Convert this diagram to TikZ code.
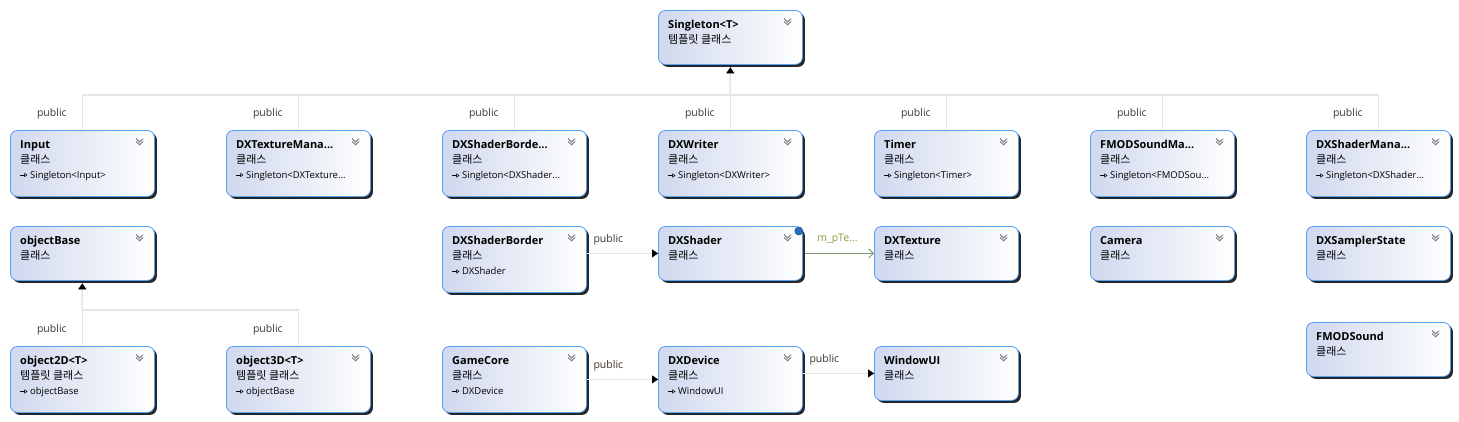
\documentclass[tikz,border=0pt]{standalone}
\usepackage{fontspec}
\setmainfont{Open Sans}
\newfontfamily\krfont{Noto Sans CJK KR}
\usetikzlibrary{arrows.meta, positioning, calc, shadows}

\definecolor{clsborder}{RGB}{84,160,242}
\definecolor{clsleft}{RGB}{208,216,238}
\definecolor{linegrey}{RGB}{230,230,230}
\definecolor{assocgreen}{RGB}{125,154,114}
\definecolor{assoctext}{RGB}{139,155,60}
\definecolor{lbltext}{RGB}{60,50,40}
\definecolor{memberblue}{RGB}{40,110,200}

\newcommand{\kind}{{\krfont 클래스}}
\newcommand{\tkind}{{\krfont 템플릿 클래스}}
\newcommand{\base}[1]{{\fontsize{9.5}{15}\selectfont\tikz[baseline=-0.6ex]\draw[line width=0.5pt,-{Triangle[open,length=3pt,width=4pt]}] (0pt,0pt)--(7pt,0pt);\ #1}}
\newcommand{\chevron}{\tikz\draw[black!50, line width=1pt, line join=miter] (0pt,6pt)--(3.5pt,2.8pt)--(7pt,6pt) (0pt,3.2pt)--(3.5pt,0pt)--(7pt,3.2pt);}

\begin{document}
\begin{tikzpicture}[
    x=1pt, y=-1pt,
    every node/.style={font=\fontsize{9}{11}\selectfont},
    cls/.style={rectangle, draw=clsborder, line width=0.8pt, rounded corners=7pt,
        left color=clsleft, right color=white, anchor=north west, inner sep=0pt,
        minimum width=144pt, minimum height=54pt,
        drop shadow={shadow xshift=2.5pt, shadow yshift=-2.5pt, fill=black!85, opacity=1},
        label={[chev]north east:{\chevron}}},
    tall/.style={minimum height=66pt},
    txt/.style={anchor=north west, align=left, inner xsep=10pt, inner ysep=10pt, font=\fontsize{11}{15}\selectfont, text=black},
    chev/.style={anchor=north east, inner xsep=11pt, inner ysep=8pt},
    gline/.style={draw=linegrey, line width=1.5pt},
    inh/.style={gline, -{Triangle[length=6pt, width=8pt, color=black, line width=0.4pt]}},
    assoc/.style={draw=assocgreen, line width=1pt, -{Straight Barb[length=4.5pt, width=9pt]}},
    lbl/.style={font=\fontsize{10.5}{12}\selectfont, text=lbltext, inner sep=0pt},
    member/.style={circle, fill=memberblue, draw=memberblue!60!black, line width=0.5pt, minimum size=8pt, inner sep=0pt}
]
\useasboundingbox (0,0) rectangle (1459,421);

% Singleton template at the top
\node[cls, label={[txt]north west:{{\bfseries Singleton<T>}\\\tkind}}] (singleton) at (658,10) {};

% Row 1 - singleton users
\node[cls, tall, label={[txt]north west:{{\bfseries Input}\\\kind\\\base{Singleton<Input>}}}] (input) at (10,130) {};
\node[cls, tall, label={[txt]north west:{{\bfseries DXTextureMana...}\\\kind\\\base{Singleton<DXTexture...}}}] (texman) at (226,130) {};
\node[cls, tall, label={[txt]north west:{{\bfseries DXShaderBorde...}\\\kind\\\base{Singleton<DXShader...}}}] (borderman) at (442,130) {};
\node[cls, tall, label={[txt]north west:{{\bfseries DXWriter}\\\kind\\\base{Singleton<DXWriter>}}}] (writer) at (658,130) {};
\node[cls, tall, label={[txt]north west:{{\bfseries Timer}\\\kind\\\base{Singleton<Timer>}}}] (timer) at (874,130) {};
\node[cls, tall, label={[txt]north west:{{\bfseries FMODSoundMa...}\\\kind\\\base{Singleton<FMODSou...}}}] (soundman) at (1090,130) {};
\node[cls, tall, label={[txt]north west:{{\bfseries DXShaderMana...}\\\kind\\\base{Singleton<DXShader...}}}] (shaderman) at (1306,130) {};

% Row 2
\node[cls, label={[txt]north west:{{\bfseries objectBase}\\\kind}}] (objbase) at (10,226) {};
\node[cls, tall, label={[txt]north west:{{\bfseries DXShaderBorder}\\\kind\\\base{DXShader}}}] (border) at (442,226) {};
\node[cls, label={[txt]north west:{{\bfseries DXShader}\\\kind}}] (shader) at (658,226) {};
\node[cls, label={[txt]north west:{{\bfseries DXTexture}\\\kind}}] (texture) at (874,226) {};
\node[cls, label={[txt]north west:{{\bfseries Camera}\\\kind}}] (camera) at (1090,226) {};
\node[cls, label={[txt]north west:{{\bfseries DXSamplerState}\\\kind}}] (sampler) at (1306,226) {};
\node[cls, label={[txt]north west:{{\bfseries FMODSound}\\\kind}}] (sound) at (1306,322) {};

% Row 3
\node[cls, tall, label={[txt]north west:{{\bfseries object2D<T>}\\\tkind\\\base{objectBase}}}] (obj2d) at (10,346) {};
\node[cls, tall, label={[txt]north west:{{\bfseries object3D<T>}\\\tkind\\\base{objectBase}}}] (obj3d) at (226,346) {};
\node[cls, tall, label={[txt]north west:{{\bfseries GameCore}\\\kind\\\base{DXDevice}}}] (gamecore) at (442,346) {};
\node[cls, tall, label={[txt]north west:{{\bfseries DXDevice}\\\kind\\\base{WindowUI}}}] (device) at (658,346) {};
\node[cls, label={[txt]north west:{{\bfseries WindowUI}\\\kind}}] (windowui) at (874,346) {};

% member icon on DXShader
\node[member] (texmember) at ([xshift=-4pt,yshift=-5pt]shader.north east) {};

% Inheritance trunks
\coordinate (trunk) at (730,95);
\coordinate (objtrunk) at (82,310);

\draw[gline] (input.north) |- (trunk) node[lbl, pos=0.23, left=15pt] {public};
\draw[gline] (texman.north) |- (trunk) node[lbl, pos=0.23, left=15pt] {public};
\draw[gline] (borderman.north) |- (trunk) node[lbl, pos=0.23, left=15pt] {public};
\draw[gline] (writer.north) |- (trunk) node[lbl, pos=0.23, left=15pt] {public};
\draw[gline] (timer.north) |- (trunk) node[lbl, pos=0.23, left=15pt] {public};
\draw[gline] (soundman.north) |- (trunk) node[lbl, pos=0.23, left=15pt] {public};
\draw[gline] (shaderman.north) |- (trunk) node[lbl, pos=0.23, left=15pt] {public};
\draw[inh, shorten >=2.5pt] (trunk) -- (singleton.south);

\draw[gline] (obj2d.north) |- (objtrunk) node[lbl, pos=0.22, left=15pt] {public};
\draw[gline] (obj3d.north) |- (objtrunk) node[lbl, pos=0.22, left=15pt] {public};
\draw[inh, shorten >=2.5pt] (objtrunk) -- (objbase.south);

% Side arrows
\draw[inh] (border.east |- shader.west) -- (shader.west) node[lbl, pos=0, above right=8pt and 6pt] {public};
\draw[assoc, shorten <=2.5pt] (shader.east) -- (texture.west) node[lbl, pos=0, above right=9pt and 14pt, text=assoctext] {m\_pTe...};
\draw[inh] (gamecore) -- (device) node[lbl, pos=0, above right=8pt and 6pt] {public};
\draw[inh] (device.east |- windowui.west) -- (windowui.west) node[lbl, pos=0, above right=8pt and 6pt] {public};

\end{tikzpicture}
\end{document}
